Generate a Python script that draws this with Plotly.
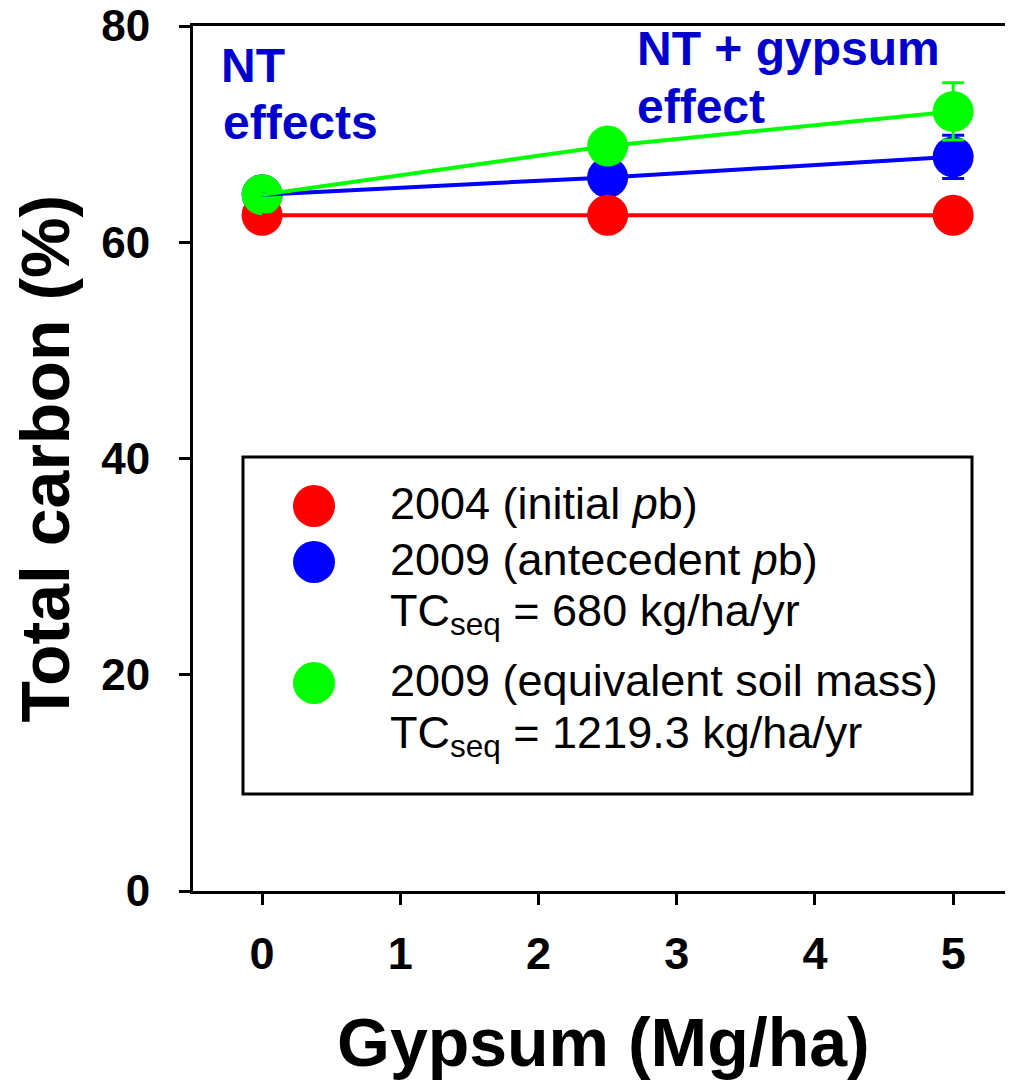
import plotly.graph_objects as go

# ---- data ----
gypsum = [0, 2.5, 5]
tc_2004 = [62.5, 62.5, 62.5]
tc_2009_ante = [64.4, 66.0, 67.9]
tc_2009_esm = [64.4, 68.9, 72.1]
err_2009_ante = [0.5, 0.8, 2.0]
err_2009_esm = [0.5, 0.8, 2.65]
x_ticks = [0, 1, 2, 3, 4, 5]
y_ticks = [0, 20, 40, 60, 80]

legend_labels = [
    "2004 (initial <i>p</i>b)",
    "2009 (antecedent <i>p</i>b)",
    "TC<sub>seq</sub> = 680 kg/ha/yr",
    "2009 (equivalent soil mass)",
    "TC<sub>seq</sub> = 1219.3 kg/ha/yr",
]

RED, BLUE, GREEN = "#FF0000", "#0000FF", "#00FF00"
ANN_BLUE = "#0000CC"
FONT = "Liberation Sans, Arial, sans-serif"

fig = go.Figure()

# markers (with error bars) first
fig.add_trace(go.Scatter(x=gypsum, y=tc_2009_ante, mode="markers",
                         marker=dict(size=41, color=BLUE),
                         error_y=dict(type="data", array=err_2009_ante, color=BLUE,
                                      thickness=3, width=11),
                         showlegend=False))
fig.add_trace(go.Scatter(x=gypsum, y=tc_2004, mode="markers",
                         marker=dict(size=41, color=RED), showlegend=False))
fig.add_trace(go.Scatter(x=gypsum, y=tc_2009_esm, mode="markers",
                         marker=dict(size=41, color=GREEN),
                         error_y=dict(type="data", array=err_2009_esm, color=GREEN,
                                      thickness=3, width=11),
                         showlegend=False))
# connecting lines on top
for ys, c in [(tc_2004, RED), (tc_2009_ante, BLUE), (tc_2009_esm, GREEN)]:
    fig.add_trace(go.Scatter(x=gypsum, y=ys, mode="lines",
                             line=dict(color=c, width=4), showlegend=False,
                             hoverinfo="skip"))

# page body has an 8px margin; plot area in window pixels: x 193..1013, y 26..891
OFF = 8
PL, PT, PB = 193, 26, 891
PW, PH = 820, PB - PT
W, H = 1005, 1075
L, T = PL - OFF, PT - OFF
R = W - L - PW
B = H - T - PH

def px_x(px):
    return (px - PL) / PW

def px_y(py):
    return (PB - py) / PH

shapes = []
# legend box
shapes.append(dict(type="rect", xref="paper", yref="paper",
                   x0=px_x(243), x1=px_x(972), y0=px_y(794), y1=px_y(457),
                   line=dict(color="black", width=3), fillcolor="rgba(0,0,0,0)"))
# legend symbols
for cy, c in [(506, RED), (562, BLUE), (683, GREEN)]:
    shapes.append(dict(type="circle", xref="paper", yref="paper",
                       xsizemode="pixel", ysizemode="pixel",
                       xanchor=px_x(314), yanchor=px_y(cy),
                       x0=-21, x1=21, y0=-21, y1=21,
                       fillcolor=c, line=dict(width=0)))

annotations = []
# legend text
for lbl, base in zip(legend_labels, [522, 578, 629, 699, 751]):
    annotations.append(dict(text=lbl, xref="paper", yref="paper",
                            x=px_x(388), y=px_y(base - 46), xanchor="left",
                            yanchor="top", showarrow=False,
                            font=dict(family=FONT, size=45, color="black")))
# blue effect labels
for txt, xl, base in [("NT", 219, 85), ("effects", 220.5, 142),
                      ("NT + gypsum", 634.5, 68), ("effect", 634.5, 126)]:
    annotations.append(dict(text="<b>%s</b>" % txt, xref="paper", yref="paper",
                            x=px_x(xl), y=px_y(base - 48), xanchor="left",
                            yanchor="top", showarrow=False,
                            font=dict(family=FONT, size=48, color=ANN_BLUE)))
# axis titles
annotations.append(dict(text="<b>Total carbon (%)</b>", xref="paper", yref="paper",
                        x=px_x(44), y=0.5, xanchor="center", yanchor="middle",
                        textangle=-90, showarrow=False,
                        font=dict(family=FONT, size=68, color="black")))
annotations.append(dict(text="<b>Gypsum (Mg/ha)</b>", xref="paper", yref="paper",
                        x=0.5, y=px_y(1042), xanchor="center", yanchor="middle",
                        showarrow=False,
                        font=dict(family=FONT, size=68, color="black")))

fig.update_layout(
    width=W, height=H, autosize=False,
    margin=dict(l=L, r=R, t=T, b=B, pad=0, autoexpand=False),
    paper_bgcolor="white", plot_bgcolor="white",
    shapes=shapes, annotations=annotations,
    showlegend=False,
)
fig.update_xaxes(range=[-0.5, 5.433], tickvals=x_ticks,
                 ticktext=["<b>%d</b>" % v for v in x_ticks],
                 showline=True, linecolor="black", linewidth=3, mirror=True,
                 ticks="outside", ticklen=11, tickwidth=3, tickcolor="black",
                 showgrid=False, zeroline=False, ticklabelstandoff=10,
                 ticklabeloverflow="allow", automargin=False,
                 tickfont=dict(family=FONT, size=45, color="black"))
fig.update_yaxes(range=[0, 80], tickvals=y_ticks,
                 ticktext=["<b>%d</b>" % v for v in y_ticks],
                 showline=True, linecolor="black", linewidth=3, mirror=False,
                 ticks="outside", ticklen=11, tickwidth=3, tickcolor="black",
                 showgrid=False, zeroline=False, ticklabelstandoff=20,
                 ticklabeloverflow="allow", automargin=False,
                 tickfont=dict(family=FONT, size=44, color="black"))

fig.write_html("out.html")
